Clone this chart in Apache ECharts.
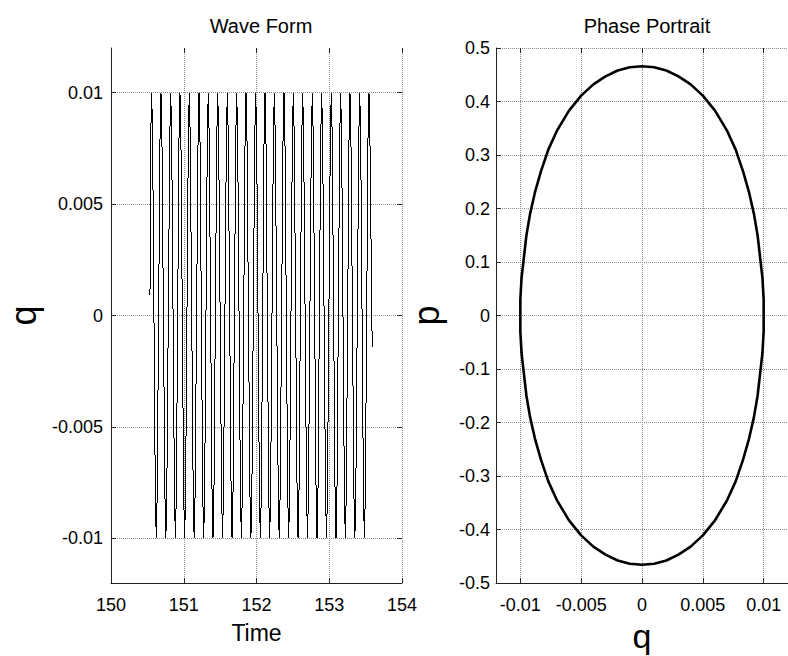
<!DOCTYPE html>
<html><head><meta charset="utf-8">
<script src="https://cdn.jsdelivr.net/npm/echarts@6/dist/echarts.min.js"></script>
<style>
html,body{margin:0;padding:0;background:#fff}
#c{width:788px;height:656px}
#c path[stroke="#000000"]{shape-rendering:crispEdges}
</style>
</head><body><div id="c"></div>
<script>
// ---- Wave Form data (time, q) ----
const waveTime = [
150.536,
150.546,150.559,150.572, 150.609,150.622,150.635, 150.674,150.687,150.700, 150.741,150.754,150.767,
150.808,150.821,150.834, 150.872,150.885,150.898, 150.935,150.948,150.961, 150.999,151.012,151.025,
151.063,151.076,151.089, 151.130,151.143,151.156, 151.197,151.210,151.223, 151.261,151.274,151.287,
151.324,151.337,151.350, 151.389,151.402,151.415, 151.454,151.467,151.480, 151.520,151.533,151.546,
151.586,151.599,151.612, 151.651,151.664,151.677, 151.715,151.728,151.741, 151.779,151.792,151.805,
151.843,151.856,151.869, 151.910,151.923,151.936, 151.976,151.989,152.002, 152.040,152.053,152.066,
152.104,152.117,152.130, 152.168,152.181,152.194, 152.232,152.245,152.258, 152.299,152.312,152.325,
152.365,152.378,152.391, 152.429,152.442,152.455, 152.493,152.506,152.519, 152.558,152.571,152.584,
152.622,152.635,152.648, 152.688,152.701,152.714, 152.754,152.767,152.780, 152.819,152.832,152.845,
152.883,152.896,152.909, 152.949,152.962,152.975, 153.015,153.028,153.041, 153.080,153.093,153.106,
153.144,153.157,153.170, 153.208,153.221,153.234, 153.272,153.285,153.298, 153.339,153.352,153.365,
153.406,153.419,153.432, 153.470,153.483,153.496, 153.533,153.546,153.559,
153.590
];
const waveQ = [
0.0009,
0.008,0.01,0.008, -0.008,-0.01,-0.008, 0.008,0.01,0.008, -0.008,-0.01,-0.008,
0.008,0.01,0.008, -0.008,-0.01,-0.008, 0.008,0.01,0.008, -0.008,-0.01,-0.008,
0.008,0.01,0.008, -0.008,-0.01,-0.008, 0.008,0.01,0.008, -0.008,-0.01,-0.008,
0.008,0.01,0.008, -0.008,-0.01,-0.008, 0.008,0.01,0.008, -0.008,-0.01,-0.008,
0.008,0.01,0.008, -0.008,-0.01,-0.008, 0.008,0.01,0.008, -0.008,-0.01,-0.008,
0.008,0.01,0.008, -0.008,-0.01,-0.008, 0.008,0.01,0.008, -0.008,-0.01,-0.008,
0.008,0.01,0.008, -0.008,-0.01,-0.008, 0.008,0.01,0.008, -0.008,-0.01,-0.008,
0.008,0.01,0.008, -0.008,-0.01,-0.008, 0.008,0.01,0.008, -0.008,-0.01,-0.008,
0.008,0.01,0.008, -0.008,-0.01,-0.008, 0.008,0.01,0.008, -0.008,-0.01,-0.008,
0.008,0.01,0.008, -0.008,-0.01,-0.008, 0.008,0.01,0.008, -0.008,-0.01,-0.008,
0.008,0.01,0.008, -0.008,-0.01,-0.008, 0.008,0.01,0.008, -0.008,-0.01,-0.008,
0.008,0.01,0.008, -0.008,-0.01,-0.008, 0.008,0.01,0.008,
-0.0014
];
// ---- Phase Portrait data (q, p) ----
const phaseQ = [
0.0000,0.0010,0.0020,0.0030,0.0040,0.0050,0.0060,0.0070,0.0077,0.0083,0.0088,0.0092,0.0095,0.0097,0.0099,0.0100,
0.0100,0.0100,0.0099,0.0097,0.0095,0.0092,0.0088,0.0083,0.0077,0.0070,0.0060,0.0050,0.0040,0.0030,0.0020,0.0010,
0.0000,-0.0010,-0.0020,-0.0030,-0.0040,-0.0050,-0.0060,-0.0070,-0.0077,-0.0083,-0.0088,-0.0092,-0.0095,-0.0097,-0.0099,-0.0100,
-0.0100,-0.0100,-0.0099,-0.0097,-0.0095,-0.0092,-0.0088,-0.0083,-0.0077,-0.0070,-0.0060,-0.0050,-0.0040,-0.0030,-0.0020,-0.0010,
0.0000
];
const phaseP = [
0.466,0.464,0.458,0.447,0.432,0.411,0.383,0.345,0.310,0.270,0.230,0.190,0.150,0.110,0.070,0.030,
0.000,-0.030,-0.070,-0.110,-0.150,-0.190,-0.230,-0.270,-0.310,-0.345,-0.383,-0.411,-0.432,-0.447,-0.458,-0.464,
-0.466,-0.464,-0.458,-0.447,-0.432,-0.411,-0.383,-0.345,-0.310,-0.270,-0.230,-0.190,-0.150,-0.110,-0.070,-0.030,
0.000,0.030,0.070,0.110,0.150,0.190,0.230,0.270,0.310,0.345,0.383,0.411,0.432,0.447,0.458,0.464,
0.466
];
const qTicks = [-0.01,-0.005,0,0.005,0.01];

const FONT = '"Liberation Sans", Arial, Helvetica, sans-serif';
const waveData = waveTime.map((t,i)=>[t, waveQ[i]]);
const phaseData = phaseQ.map((x,i)=>[x, phaseP[i]]);

const grid = '#8c8c8c';
const axCol = '#222';
const TICKFS = 18;
function baseAxis(extra){
  return Object.assign({
    type:'value',
    axisLine:{show:true,onZero:false,lineStyle:{color:axCol,width:1}},
    axisTick:{show:true,inside:true,length:5,lineStyle:{color:axCol}},
    axisLabel:{color:'#000',fontSize:TICKFS,fontFamily:FONT,margin:8},
    splitLine:{show:true,lineStyle:{type:'dotted',color:grid,width:1}}
  }, extra);
}
function mirrorAxis(extra){
  return Object.assign({
    type:'value',
    axisLine:{show:false,onZero:false},
    axisTick:{show:true,inside:true,length:5,lineStyle:{color:axCol}},
    axisLabel:{show:false},
    splitLine:{show:false}
  }, extra);
}
const tickQ = {show:true,inside:true,length:5,lineStyle:{color:axCol},customValues:qTicks};

const chart = echarts.init(document.getElementById('c'), null, {renderer:'svg'});
chart.setOption({
  animation:false,
  backgroundColor:'#fff',
  title:[
    {text:'Wave Form',left:256,top:11,textAlign:'center',textStyle:{fontFamily:FONT,fontSize:20,fontWeight:'normal',color:'#000'}},
    {text:'Phase Portrait',left:642,top:11,textAlign:'center',textStyle:{fontFamily:FONT,fontSize:20,fontWeight:'normal',color:'#000'}}
  ],
  grid:[
    {left:111,top:48,width:291,height:535,outerBoundsMode:'none',containLabel:false},
    {left:496,top:48,width:292,height:535,outerBoundsMode:'none',containLabel:false}
  ],
  xAxis:[
    baseAxis({gridIndex:0,min:150,max:154,interval:1,name:'Time',nameLocation:'middle',nameGap:38,
      axisLabel:{color:'#000',fontSize:TICKFS,fontFamily:FONT,margin:13},
      nameTextStyle:{fontFamily:FONT,fontSize:23,color:'#000'}}),
    mirrorAxis({gridIndex:0,position:'top',min:150,max:154,interval:1}),
    baseAxis({gridIndex:1,min:-0.012,max:0.012,name:'q',nameLocation:'middle',nameGap:24,
      axisTick:tickQ,
      axisLabel:{color:'#000',fontSize:TICKFS,fontFamily:FONT,margin:13,customValues:qTicks},
      nameTextStyle:{fontFamily:FONT,fontSize:34,color:'#000'}}),
    mirrorAxis({gridIndex:1,position:'top',min:-0.012,max:0.012,axisTick:tickQ})
  ],
  yAxis:[
    baseAxis({gridIndex:0,min:-0.012,max:0.012,name:'q',nameLocation:'middle',nameGap:70,
      axisTick:tickQ,
      axisLabel:{color:'#000',fontSize:TICKFS,fontFamily:FONT,margin:8,customValues:qTicks},
      nameTextStyle:{fontFamily:FONT,fontSize:36,color:'#000'}}),
    mirrorAxis({gridIndex:0,position:'right',min:-0.012,max:0.012,axisTick:tickQ}),
    baseAxis({gridIndex:1,min:-0.5,max:0.5,interval:0.1,name:'p',nameLocation:'middle',nameGap:52,
      axisLabel:{color:'#000',fontSize:TICKFS,fontFamily:FONT,margin:6},
      nameTextStyle:{fontFamily:FONT,fontSize:36,color:'#000'}})
  ],
  series:[
    {type:'line',xAxisIndex:0,yAxisIndex:0,data:waveData,showSymbol:false,symbol:'none',
      lineStyle:{color:'#000000',width:1},clip:false},
    {type:'line',xAxisIndex:2,yAxisIndex:2,data:phaseData,showSymbol:false,symbol:'none',
      lineStyle:{color:'#000',width:2.6},clip:false}
  ]
});
</script>
</body></html>
